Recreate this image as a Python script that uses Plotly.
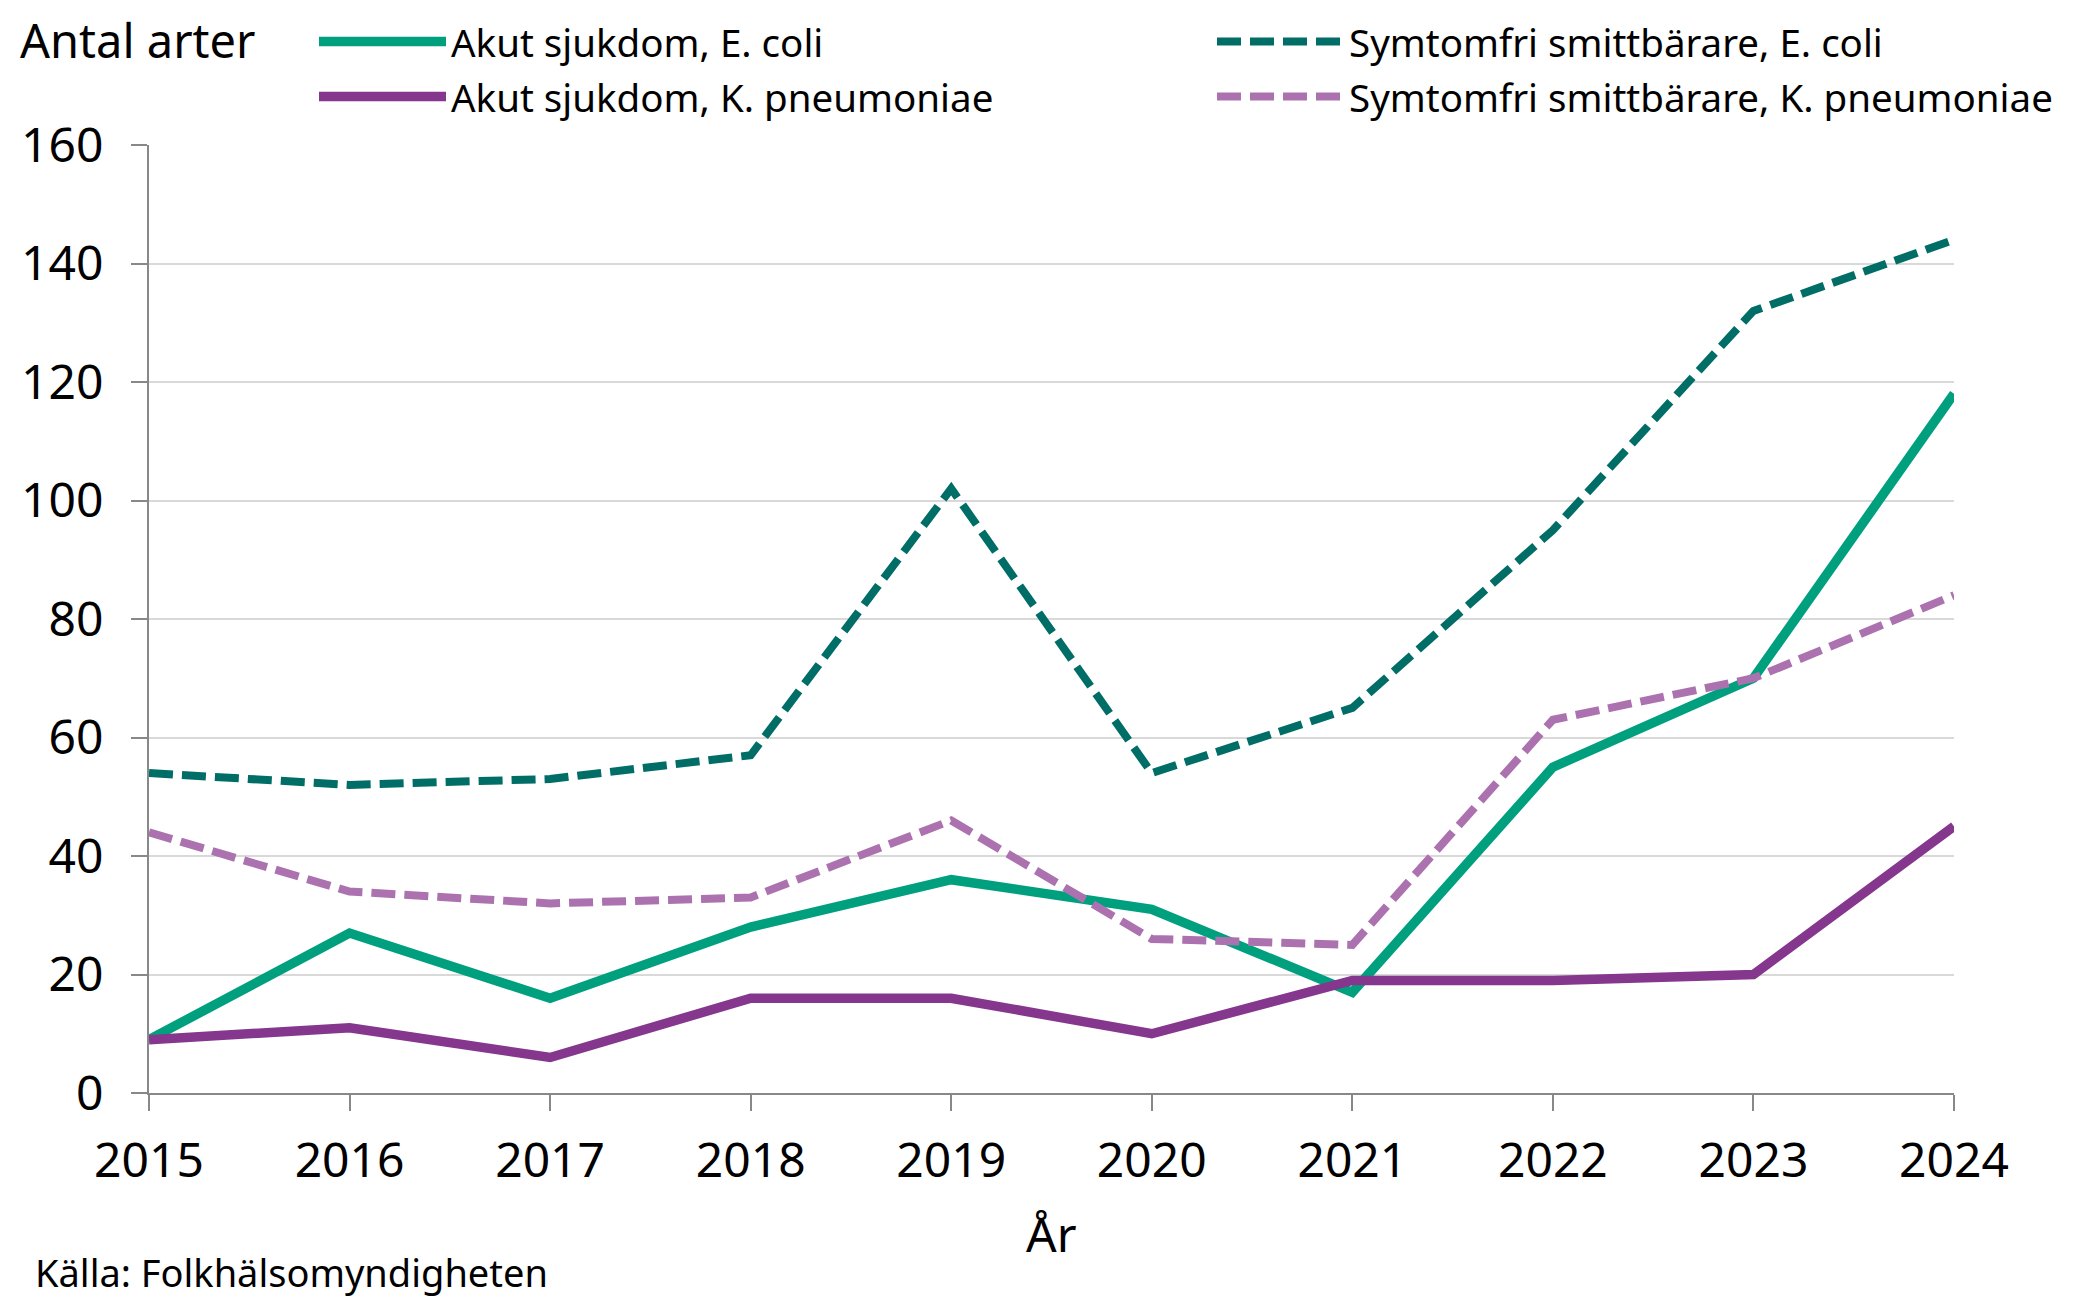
import plotly.graph_objects as go

years = [2015, 2016, 2017, 2018, 2019, 2020, 2021, 2022, 2023, 2024]
akut_ecoli = [9, 27, 16, 28, 36, 31, 17, 55, 70, 118]
akut_kpn = [9, 11, 6, 16, 16, 10, 19, 19, 20, 45]
symt_ecoli = [54, 52, 53, 57, 102, 54, 65, 95, 132, 144]
symt_kpn = [44, 34, 32, 33, 46, 26, 25, 63, 70, 84]

names = ["Akut sjukdom, E. coli", "Akut sjukdom, K. pneumoniae",
         "Symtomfri smittbärare, E. coli", "Symtomfri smittbärare, K. pneumoniae"]
y_ticks = [0, 20, 40, 60, 80, 100, 120, 140, 160]

W, H = 2079, 1301
L, R, T, B = 149, W - 1954, 145, H - 1093
PW, PH = W - L - R, H - T - B
FONT = "Noto Sans"

def px(x):
    return (x - L) / PW

def py(y):
    return (H - B - y) / PH

fig = go.Figure()
fig.add_trace(go.Scatter(x=years, y=akut_ecoli, name=names[0], mode="lines",
                         line=dict(color="#00A07F", width=9.5),
                         legend="legend", legendgroup="a1"))
fig.add_trace(go.Scatter(x=years, y=akut_kpn, name=names[1], mode="lines",
                         line=dict(color="#84378D", width=9.5),
                         legend="legend", legendgroup="a2"))
fig.add_trace(go.Scatter(x=years, y=symt_ecoli, name=names[2], mode="lines",
                         line=dict(color="#006E66", width=8, dash="24px,9px"),
                         legend="legend2", legendgroup="s1"))
fig.add_trace(go.Scatter(x=years, y=symt_kpn, name=names[3], mode="lines",
                         line=dict(color="#AC72B0", width=8, dash="24px,9px"),
                         legend="legend2", legendgroup="s2"))

legend_common = dict(font=dict(family=FONT, size=38.5, color="#000000"),
                     bgcolor="rgba(0,0,0,0)", borderwidth=0,
                     xref="container", yref="container",
                     xanchor="left", yanchor="top", itemwidth=127,
                     orientation="v", tracegroupgap=2)

fig.update_layout(
    width=W, height=H,
    margin=dict(l=L, r=R, t=T, b=B, pad=0, autoexpand=False),
    paper_bgcolor="white", plot_bgcolor="white",
    font=dict(family=FONT, color="#000000"),
    showlegend=True,
    legend=dict(x=314 / W, y=1 - 10 / H, **legend_common),
    legend2=dict(x=1212 / W, y=1 - 10 / H, **legend_common),
    xaxis=dict(range=[2015, 2024], tickmode="array", tickvals=years,
               ticktext=[str(v) for v in years], automargin=False, tickangle=0,
               showgrid=False, zeroline=False,
               showline=True, linecolor="#888888", linewidth=2,
               ticks="outside", ticklen=16, tickwidth=2, tickcolor="#888888",
               tickfont=dict(family=FONT, size=48, color="#000000"),
               ticklabelstandoff=8),
    yaxis=dict(range=[0, 160], tickmode="array", tickvals=y_ticks, automargin=False,
               showgrid=True, gridcolor="#D9D9D9", gridwidth=2, zeroline=False,
               showline=True, linecolor="#888888", linewidth=2,
               ticks="outside", ticklen=16, tickwidth=2, tickcolor="#888888",
               tickfont=dict(family=FONT, size=48, color="#000000"),
               ticklabelstandoff=18),
    annotations=[
        dict(text="Antal arter", xref="paper", yref="paper", x=px(18), y=py(40),
             xanchor="left", yanchor="middle", showarrow=False,
             font=dict(family=FONT, size=47, color="#000000")),
        dict(text="År", xref="paper", yref="paper", x=px(1051), y=py(1233),
             xanchor="center", yanchor="middle", showarrow=False,
             font=dict(family=FONT, size=48, color="#000000")),
        dict(text="Källa: Folkhälsomyndigheten", xref="paper", yref="paper",
             x=px(33), y=py(1272), xanchor="left", yanchor="middle", showarrow=False,
             font=dict(family=FONT, size=38, color="#000000")),
    ],
)

fig.write_html("out.html", config={"displayModeBar": False},
               post_script="document.body.style.margin='0';document.body.style.overflow='hidden';")
